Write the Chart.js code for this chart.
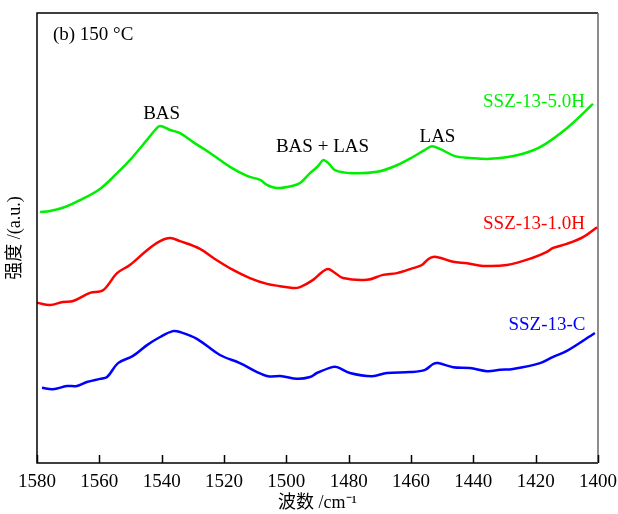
<!DOCTYPE html>
<html>
<head>
<meta charset="utf-8">
<script src="https://cdn.jsdelivr.net/npm/chart.js@4/dist/chart.umd.min.js"></script>
<style>
  html, body { margin: 0; padding: 0; background: #fff; }
  #wrap { width: 618px; height: 514px; }
</style>
</head>
<body>
<div id="wrap"><canvas id="irChart" width="618" height="514"></canvas></div>
<script>
// wavenumber (cm-1) and intensity (a.u.)
const waveC = [1578.4, 1574.9, 1570.4, 1567.2, 1564.0, 1559.8, 1557.5, 1554.0, 1549.2, 1544.7, 1540.5, 1536.4, 1534.1, 1528.7, 1521.3, 1514.9, 1509.4, 1505.9, 1501.4, 1496.6, 1492.4, 1490.2, 1485.3, 1483.7, 1479.6, 1472.5, 1467.7, 1460.3, 1455.5, 1452.9, 1451.3, 1446.5, 1441.1, 1435.6, 1431.4, 1427.3, 1418.6, 1414.4, 1410.0, 1401.0];
const intC = [0.167, 0.164, 0.171, 0.171, 0.180, 0.187, 0.191, 0.222, 0.238, 0.262, 0.280, 0.293, 0.291, 0.276, 0.240, 0.222, 0.202, 0.193, 0.193, 0.187, 0.191, 0.200, 0.213, 0.213, 0.200, 0.193, 0.200, 0.202, 0.207, 0.220, 0.222, 0.213, 0.211, 0.204, 0.207, 0.209, 0.222, 0.236, 0.249, 0.289];

const wave1H = [1580.0, 1575.8, 1571.7, 1568.4, 1563.0, 1558.8, 1554.3, 1550.2, 1544.7, 1540.5, 1537.3, 1534.1, 1527.7, 1523.5, 1517.1, 1511.7, 1506.2, 1502.0, 1497.9, 1495.6, 1491.4, 1488.6, 1486.6, 1484.7, 1481.8, 1474.1, 1469.0, 1464.5, 1459.4, 1456.5, 1454.5, 1452.9, 1450.7, 1446.5, 1442.0, 1436.9, 1429.2, 1420.9, 1416.4, 1414.4, 1410.0, 1404.8, 1400.3];
const int1H = [0.356, 0.351, 0.358, 0.360, 0.378, 0.384, 0.422, 0.440, 0.473, 0.493, 0.500, 0.493, 0.476, 0.456, 0.429, 0.411, 0.398, 0.393, 0.389, 0.391, 0.407, 0.424, 0.431, 0.424, 0.411, 0.407, 0.418, 0.422, 0.433, 0.440, 0.453, 0.458, 0.456, 0.447, 0.444, 0.438, 0.440, 0.456, 0.469, 0.478, 0.487, 0.502, 0.524];

const wave5H = [1579.0, 1575.8, 1571.0, 1566.2, 1559.8, 1554.3, 1550.2, 1544.7, 1542.1, 1540.5, 1537.3, 1534.1, 1529.9, 1524.5, 1518.1, 1512.6, 1508.4, 1506.2, 1503.0, 1497.9, 1495.6, 1492.4, 1489.8, 1488.2, 1486.6, 1484.4, 1478.9, 1470.9, 1465.1, 1459.4, 1455.5, 1453.3, 1450.7, 1445.9, 1441.1, 1434.6, 1426.0, 1418.6, 1410.0, 1401.6];
const int5H = [0.558, 0.560, 0.569, 0.584, 0.609, 0.644, 0.673, 0.718, 0.740, 0.749, 0.740, 0.733, 0.713, 0.689, 0.658, 0.638, 0.629, 0.618, 0.611, 0.616, 0.622, 0.644, 0.660, 0.673, 0.667, 0.651, 0.644, 0.647, 0.660, 0.680, 0.696, 0.704, 0.698, 0.682, 0.678, 0.676, 0.684, 0.702, 0.744, 0.798];

const seriesNames = ['SSZ-13-C', 'SSZ-13-1.0H', 'SSZ-13-5.0H'];
const seriesColors = ['#0000ff', '#ff0000', '#00ee00'];

// text labels in data units: [text, wavenumber, intensity, align, color]
const notes = [
  ['(b) 150 °C', 1574.9, 0.940, 'left', '#000'],
  ['BAS', 1540.0, 0.764, 'center', '#000'],
  ['BAS + LAS', 1488.4, 0.691, 'center', '#000'],
  ['LAS', 1451.5, 0.713, 'center', '#000'],
  ['SSZ-13-5.0H', 1404.2, 0.791, 'right', seriesColors[2]],
  ['SSZ-13-1.0H', 1404.2, 0.520, 'right', seriesColors[1]],
  ['SSZ-13-C', 1404.0, 0.296, 'right', seriesColors[0]]
];

const serif = '"Liberation Serif", "Times New Roman", "Noto Sans CJK SC", serif';

function toPoints(xs, ys) {
  return xs.map((x, i) => ({ x: x, y: ys[i] }));
}

// frame, inward ticks, and the text labels
const framePlugin = {
  id: 'frame',
  afterDraw(chart) {
    const ctx = chart.ctx;
    const a = chart.chartArea;
    const xs = chart.scales.x;
    const ys = chart.scales.y;
    ctx.save();
    ctx.lineWidth = 1.5;
    ctx.strokeStyle = '#000';
    ctx.beginPath();
    ctx.moveTo(a.right, a.top);
    ctx.lineTo(a.left, a.top);
    ctx.lineTo(a.left, a.bottom);
    ctx.lineTo(a.right, a.bottom);
    ctx.stroke();
    ctx.strokeStyle = '#666';
    ctx.beginPath();
    ctx.moveTo(a.right, a.top);
    ctx.lineTo(a.right, a.bottom);
    ctx.stroke();
    ctx.strokeStyle = '#000';
    xs.ticks.forEach(t => {
      const px = Math.round(xs.getPixelForValue(t.value)) + 0.5;
      ctx.beginPath();
      ctx.moveTo(px, a.bottom);
      ctx.lineTo(px, a.bottom - 8);
      ctx.stroke();
    });
    ctx.font = '19px ' + serif;
    ctx.textBaseline = 'alphabetic';
    notes.forEach(n => {
      ctx.fillStyle = n[4];
      ctx.textAlign = n[3];
      ctx.fillText(n[0], xs.getPixelForValue(n[1]), ys.getPixelForValue(n[2]));
    });
    ctx.restore();
  }
};

const chartCtx = document.getElementById('irChart').getContext('2d');
new Chart(chartCtx, {
  type: 'line',
  data: {
    datasets: [
      { label: seriesNames[0], data: toPoints(waveC, intC), borderColor: seriesColors[0] },
      { label: seriesNames[1], data: toPoints(wave1H, int1H), borderColor: seriesColors[1] },
      { label: seriesNames[2], data: toPoints(wave5H, int5H), borderColor: seriesColors[2] }
    ]
  },
  options: {
    responsive: false,
    animation: false,
    layout: { padding: { top: 13, right: 20, left: 0, bottom: 0 } },
    elements: {
      point: { radius: 0 },
      line: { borderWidth: 2.5, tension: 0.35, fill: false }
    },
    plugins: {
      legend: { display: false },
      tooltip: { enabled: false }
    },
    scales: {
      x: {
        type: 'linear',
        reverse: true,
        min: 1400,
        max: 1580,
        afterFit: s => {
          s.height = 51;
          s.paddingLeft = 0;
          s.paddingRight = 0;
        },
        grid: { display: false, drawTicks: false },
        border: { display: false },
        ticks: {
          stepSize: 20,
          padding: 8,
          color: '#000',
          font: { family: serif, size: 19 },
          callback: v => String(v)
        },
        title: {
          display: true,
          text: '波数 /cm⁻¹',
          color: '#000',
          padding: { top: 2, bottom: 0 },
          font: { family: serif, size: 18 }
        }
      },
      y: {
        min: 0,
        max: 1,
        afterFit: s => { s.width = 37; },
        grid: { display: false, drawTicks: false },
        border: { display: false },
        ticks: { display: false },
        title: {
          display: true,
          text: '强度 /(a.u.)',
          color: '#000',
          padding: { top: 4, bottom: 0 },
          font: { family: serif, size: 18 }
        }
      }
    }
  },
  plugins: [framePlugin]
});
</script>
</body>
</html>
